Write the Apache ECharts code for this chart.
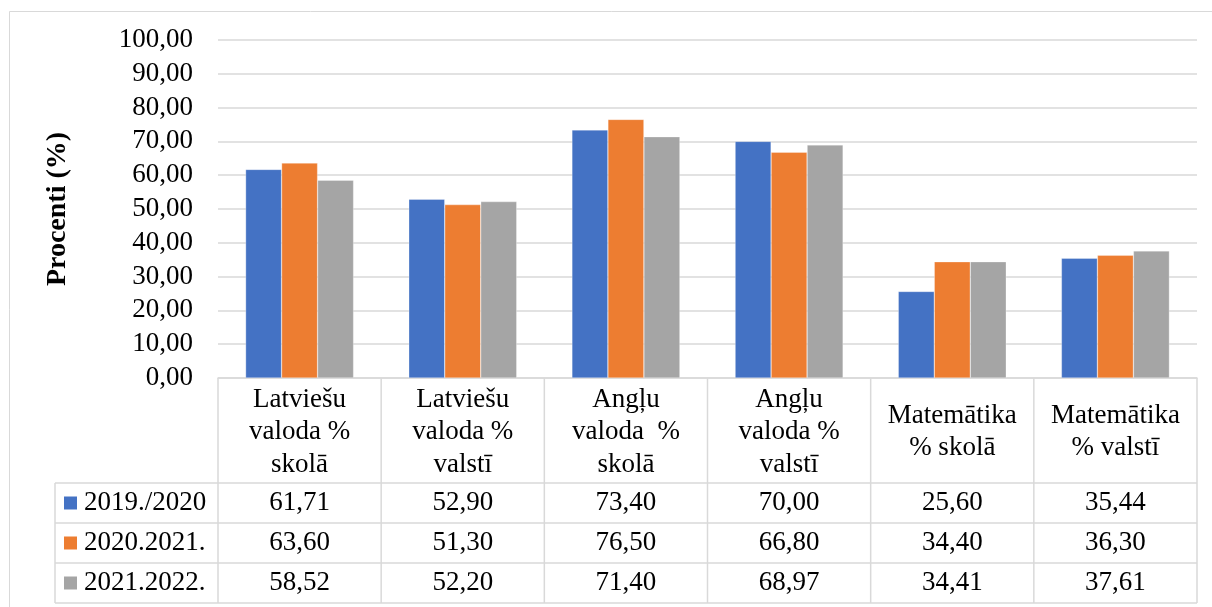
<!DOCTYPE html>
<html>
<head>
<meta charset="utf-8">
<script src="https://cdn.jsdelivr.net/npm/echarts@6/dist/echarts.min.js"></script>
<style>
html,body{margin:0;padding:0;background:#fff;}
#c{width:1212px;height:607px;}
</style>
</head>
<body>
<div id="c"></div>
<script>
const categories = ['Latviešu\nvaloda %\nskolā', 'Latviešu\nvaloda %\nvalstī', 'Angļu\nvaloda  %\nskolā', 'Angļu\nvaloda %\nvalstī', 'Matemātika\n% skolā', 'Matemātika\n% valstī'];
const seriesNames = ['2019./2020', '2020.2021.', '2021.2022.'];
const values2019 = [61.71, 52.90, 73.40, 70.00, 25.60, 35.44];
const values2020 = [63.60, 51.30, 76.50, 66.80, 34.40, 36.30];
const values2021 = [58.52, 52.20, 71.40, 68.97, 34.41, 37.61];
const yMin = 0, yMax = 100, yStep = 10;
const yTitle = 'Procenti (%)';

const colors = ['#4472C4', '#ED7D31', '#A5A5A5'];
const allValues = [values2019, values2020, values2021];
const FONT = "'Liberation Serif', 'Times New Roman', serif";
const FS = 27;
const lineCol = '#d9d9d9';
const fmt = v => v.toFixed(2).replace('.', ',');

const chart = echarts.init(document.getElementById('c'), null, {renderer: 'canvas'});
const option = {
  animation: false,
  backgroundColor: '#fff',
  textStyle: {fontFamily: FONT},
  grid: {left: 218, right: 15, top: 40, bottom: 229, containLabel: false},
  xAxis: {
    type: 'category',
    data: categories,
    axisLine: {show: true, lineStyle: {color: lineCol, width: 1.5}},
    axisTick: {show: false},
    axisLabel: {
      fontFamily: FONT, fontSize: FS, color: '#000', lineHeight: 32.5,
      verticalAlign: 'middle', margin: 54, interval: 0, align: 'center'
    }
  },
  yAxis: {
    type: 'value',
    min: yMin, max: yMax, interval: yStep,
    name: yTitle,
    nameLocation: 'middle',
    nameGap: 146,
    nameTextStyle: {fontFamily: FONT, fontSize: 28, fontWeight: 'bold', color: '#000'},
    axisLine: {show: false},
    axisTick: {show: false},
    splitLine: {lineStyle: {color: lineCol, width: 1.5}},
    axisLabel: {fontFamily: FONT, fontSize: FS, color: '#000', margin: 25, formatter: v => fmt(v)}
  },
  series: allValues.map((vals, i) => ({
    name: seriesNames[i],
    type: 'bar',
    data: vals,
    barWidth: 36,
    barGap: '0%',
    itemStyle: {color: colors[i], borderColor: 'rgba(255,255,255,0.6)', borderWidth: 0.5}
  }))
};
chart.setOption(option);

// Data table below the plot, positioned with the category axis scale
const c0 = chart.convertToPixel({xAxisIndex: 0}, 0);
const c1 = chart.convertToPixel({xAxisIndex: 0}, 1);
const band = c1 - c0;
const x0 = c0 - band / 2;
const xEnd = x0 + band * categories.length;
const yAxisPix = chart.convertToPixel({yAxisIndex: 0}, yMin);
const headerBottom = yAxisPix + 105;
const rowH = 40;
const tableLeft = 55;
const tableBottom = headerBottom + rowH * seriesNames.length;

const g = [];
const line = (x1, y1, x2, y2) => g.push({type: 'line', shape: {x1, y1, x2, y2}, style: {stroke: lineCol, lineWidth: 1.5}, silent: true});
// outer chart border
g.push({type: 'rect', shape: {x: 9.5, y: 11.5, width: 1220, height: 620}, style: {fill: null, stroke: lineCol, lineWidth: 1}, silent: true});
for (let k = 0; k <= categories.length; k++) {
  const x = x0 + k * band;
  line(x, yAxisPix, x, tableBottom);
}
line(tableLeft, headerBottom, tableLeft, tableBottom);
for (let r = 0; r <= seriesNames.length; r++) {
  const y = headerBottom + r * rowH;
  line(tableLeft, y, xEnd, y);
}
seriesNames.forEach((name, r) => {
  const cy = headerBottom + r * rowH + rowH / 2;
  g.push({type: 'rect', shape: {x: 64, y: cy - 6.5, width: 13, height: 13}, style: {fill: colors[r]}, silent: true});
  g.push({type: 'text', x: 84, y: cy, style: {text: name, font: FS + 'px ' + FONT, fill: '#000', textAlign: 'left', textVerticalAlign: 'middle'}, silent: true});
  allValues[r].forEach((v, i) => {
    const cx = chart.convertToPixel({xAxisIndex: 0}, i);
    g.push({type: 'text', x: cx, y: cy, style: {text: fmt(v), font: FS + 'px ' + FONT, fill: '#000', textAlign: 'center', textVerticalAlign: 'middle'}, silent: true});
  });
});
chart.setOption({graphic: g});
</script>
</body>
</html>
